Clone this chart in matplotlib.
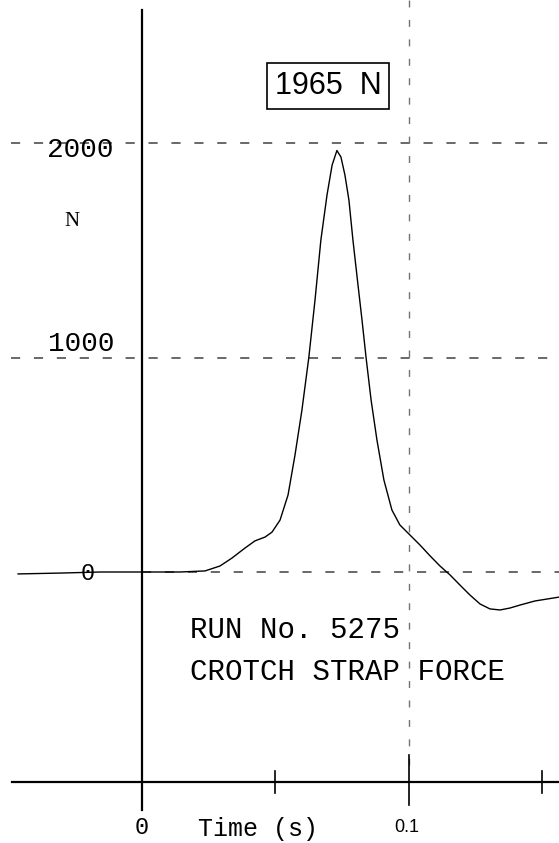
import matplotlib
matplotlib.use('Agg')
from matplotlib import pyplot as plt

# crotch strap force trace
time_s = [-0.0464, -0.0307, -0.0157, 0.0, 0.0142, 0.0236, 0.0292, 0.0337, 0.0386,
          0.0423, 0.0461, 0.0487, 0.0517, 0.0547, 0.0573, 0.0599, 0.0625, 0.0648,
          0.0670, 0.0693, 0.0712, 0.0730, 0.0745, 0.0760, 0.0775, 0.0790, 0.0809,
          0.0824, 0.0839, 0.0858, 0.0880, 0.0906, 0.0936, 0.0966, 0.1004, 0.1041,
          0.1079, 0.1116, 0.1154, 0.1191, 0.1228, 0.1266, 0.1303, 0.1341, 0.1378,
          0.1416, 0.1472, 0.1562]
force_n = [-9, -5, 0, 0, 0, 5, 28, 65, 112,
           145, 163, 186, 242, 359, 545, 755, 1002, 1268,
           1548, 1758, 1897, 1965, 1935, 1851, 1734, 1548, 1338,
           1175, 1002, 802, 615, 429, 289, 219, 172, 126,
           75, 28, -14, -61, -107, -149, -172, -177, -168,
           -154, -135, -117]

y_ticks = [0, 1000, 2000]
y_labels = ["0", "1000", "2000"]
x_ticks = [0.05, 0.1, 0.15]
peak_label = "1965  N"
run_label = "RUN No. 5275"
title_label = "CROTCH STRAP FORCE"

mono = ['Liberation Mono', 'DejaVu Sans Mono']

fig = plt.figure(figsize=(5.59, 8.43), dpi=100)
ax = fig.add_axes([0, 0, 1, 1])
ax.set_xlim(-0.05318, 0.15618)
ax.set_ylim(-1263.4, 2666.7)
ax.axis('off')

# dashed reference lines
for v in y_ticks:
    x0 = 0.0 if v == 0 else -0.049
    ax.plot([x0, 0.1562], [v, v], color='0.25', lw=1.1, linestyle=(0, (6, 9)))
ax.plot([0.1, 0.1], [2666, -900], color='0.45', lw=1.0, linestyle=(0, (5, 9)))

# axes
ax.plot([0, 0], [2620, -1110], color='black', lw=1.6)
ax.plot([-0.0487, 0.1562], [-979, -979], color='black', lw=1.6)
for t in x_ticks:
    h = 105 if t == 0.1 else 50
    ax.plot([t, t], [-979 + h + (20 if t == 0.1 else 0), -979 - h], color='black', lw=1.2)

# curve
ax.plot(time_s, force_n, color='black', lw=1.0)

# labels
ax.text(-0.0232, 1967, y_labels[2], family=mono, fontsize=20, ha='center', va='center')
ax.text(-0.0228, 1063, y_labels[1], family=mono, fontsize=20, ha='center', va='center')
ax.text(-0.0202, -5, y_labels[0], family=mono, fontsize=17, ha='center', va='center')
ax.text(-0.0262, 1632, "N", family=['Liberation Serif', 'DejaVu Serif'], fontsize=15,
        ha='center', va='center')
ax.text(0.0697, 2266, peak_label, family=['Liberation Sans Narrow', 'Liberation Sans'],
        fontsize=22, ha='center', va='center',
        bbox=dict(boxstyle='square,pad=0.25', fc='white', ec='black', lw=1.2))
ax.text(0.0180, -270, run_label, family=mono, fontsize=21, ha='left', va='center')
ax.text(0.0180, -466, title_label, family=mono, fontsize=21, ha='left', va='center')

ax.text(0.0, -1193, "0", family=mono, fontsize=17, ha='center', va='center')
ax.text(0.0434, -1196, "Time (s)", family=mono, fontsize=18, ha='center', va='center')
ax.text(0.0993, -1190, "0.1", family=['Liberation Sans Narrow', 'Liberation Sans'],
        fontsize=13, ha='center', va='center')

fig.savefig('out.png', dpi=100)
